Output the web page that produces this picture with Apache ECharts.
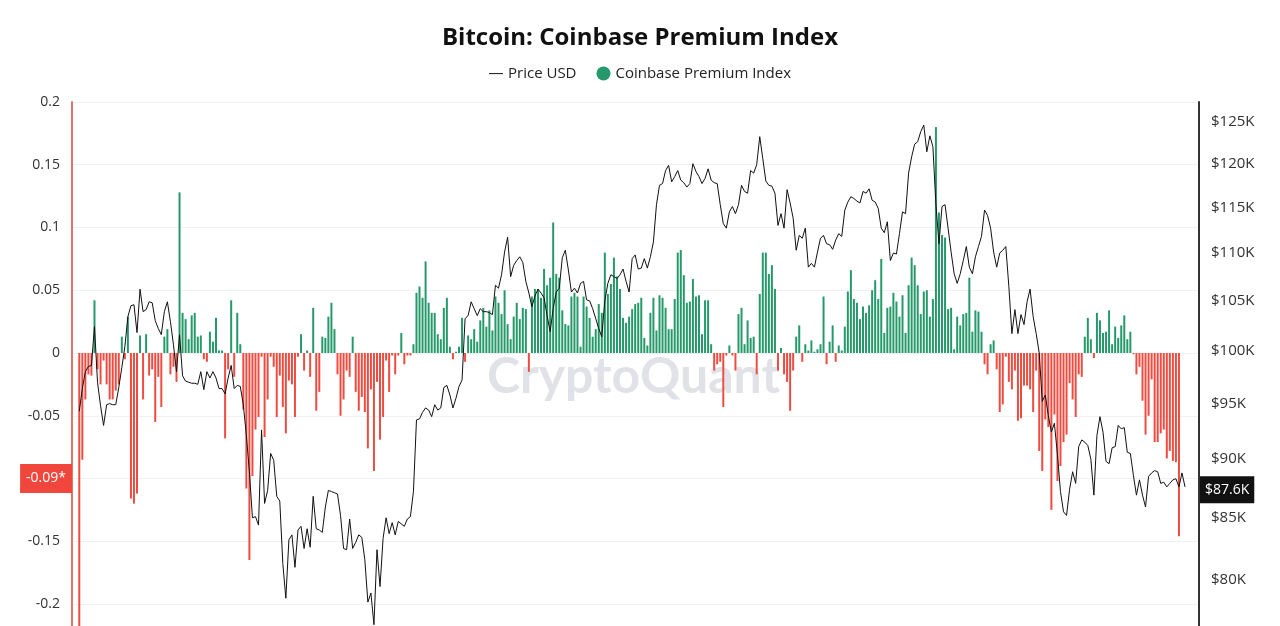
<!DOCTYPE html>
<html><head><meta charset="utf-8">
<script src="https://cdn.jsdelivr.net/npm/echarts@6/dist/echarts.min.js"></script>
<style>html,body{margin:0;padding:0;background:#fff;overflow:hidden}#c{width:1280px;height:700px}</style>
</head><body><div id="c"></div>
<script>
// Daily data, 2025-01-01 onward
const startDate = [2025, 0, 1];
// BTC price, thousands of USD
const priceUSD_K = [
94.3,96.4,98.0,98.5,98.6,102.4,97.0,94.8,93.0,94.9,
95.0,94.9,94.9,96.5,98.4,100.4,103.4,104.5,104.6,101.8,
106.2,103.9,104.1,104.9,104.8,103.0,102.2,101.6,103.9,104.9,
102.9,100.6,98.0,101.6,97.6,97.1,97.0,96.9,96.9,96.8,
98.0,96.3,98.0,97.4,98.0,97.4,96.4,96.4,95.9,97.4,
98.6,96.4,96.7,96.6,94.9,92.1,88.9,85.0,85.1,84.4,
92.6,86.2,87.3,90.5,89.9,86.8,86.4,81.3,78.6,83.2,
83.6,81.0,84.0,84.3,82.5,84.1,82.6,86.8,84.1,84.0,
83.8,85.9,87.3,87.2,87.1,87.0,85.2,82.5,82.4,84.9,
82.5,83.0,83.6,83.4,81.6,78.3,79.0,76.6,82.4,79.5,
83.3,85.0,83.7,84.6,83.6,84.7,84.5,84.3,84.9,85.1,
87.2,93.5,93.6,94.2,94.6,94.4,93.8,94.9,94.4,94.6,
96.5,96.7,95.8,94.6,95.5,96.6,97.2,103.2,103.5,104.9,
104.2,103.5,104.2,103.9,103.9,103.8,103.6,106.6,106.3,107.7,
110.1,111.7,107.5,108.7,109.2,109.6,109.0,107.0,105.8,104.4,
105.5,106.2,105.8,105.3,103.5,101.9,104.2,105.9,106.3,109.5,
110.3,108.2,105.9,106.3,105.8,106.8,107.0,105.1,105.0,104.2,
103.2,102.2,101.4,105.0,106.8,107.7,107.5,107.3,107.7,108.3,
107.0,105.9,109.4,109.8,108.3,108.4,109.4,108.4,109.6,111.2,
115.3,117.5,117.7,119.2,119.8,117.9,118.5,119.2,118.1,117.8,
117.3,117.7,120.0,119.1,118.5,117.7,118.3,119.4,118.1,117.8,
117.7,115.3,113.2,112.7,114.5,115.1,114.3,115.3,117.5,116.8,
116.6,119.2,118.9,119.9,123.2,120.6,118.0,117.5,117.4,116.6,
113.0,114.3,112.7,117.0,115.5,113.8,110.3,111.9,111.6,112.7,
108.5,108.9,108.5,110.1,111.6,111.9,111.0,110.9,110.4,111.4,
112.1,111.8,114.7,115.6,116.2,116.0,115.7,115.5,116.8,116.6,
117.1,115.8,115.6,114.9,112.7,112.2,113.4,109.2,110.0,109.9,
112.1,114.5,114.3,118.9,120.8,122.3,122.6,123.8,124.6,121.4,
123.3,122.0,115.3,111.0,115.1,115.3,112.7,110.1,107.8,106.8,
107.8,109.2,110.7,108.5,107.8,109.6,110.7,111.8,114.7,114.1,
112.7,110.1,108.5,110.0,110.3,110.7,106.5,101.7,104.1,101.7,
103.6,102.6,104.9,106.2,103.4,101.7,99.8,95.2,95.8,93.9,
92.4,93.2,90.4,87.2,85.5,85.2,87.4,88.9,87.9,91.1,
91.7,91.5,91.2,90.0,86.9,92.1,93.8,92.4,89.8,89.6,
91.0,91.1,93.0,92.7,92.8,90.6,90.5,88.6,86.9,88.2,
86.9,85.9,88.5,88.8,89.0,88.9,87.9,88.0,87.6,87.9,
88.2,88.3,87.6,88.8,87.6
];
// Coinbase Premium Index
const premiumIndex = [
-0.30,-0.085,-0.037,-0.017,-0.018,0.042,-0.013,-0.025,-0.006,-0.025,
-0.037,-0.037,-0.030,-0.025,0.013,-0.005,0.029,-0.116,-0.120,-0.112,
0.014,-0.037,0.015,-0.018,-0.013,-0.055,-0.019,-0.043,0.013,0.019,
-0.017,-0.011,-0.023,0.128,0.032,0.027,0.011,0.030,0.032,0.013,
0.014,-0.005,-0.007,0.017,0.009,0.028,0.002,0.002,-0.068,-0.013,
0.042,-0.019,0.032,0.007,-0.045,-0.108,-0.165,-0.098,-0.061,-0.051,
-0.003,-0.067,-0.037,-0.003,-0.011,-0.051,-0.018,-0.043,-0.064,-0.022,
-0.025,-0.051,-0.003,0.015,-0.014,0.002,-0.019,0.036,-0.046,-0.031,
0.013,0.012,0.029,0.040,0.019,-0.017,-0.050,-0.037,-0.014,-0.019,
0.013,-0.031,-0.046,-0.035,-0.047,-0.076,-0.029,-0.094,-0.023,-0.069,
-0.051,-0.006,-0.031,-0.002,-0.017,-0.002,0.016,-0.009,-0.002,-0.002,
0.007,0.048,0.053,0.044,0.073,0.040,0.032,0.032,0.015,0.011,
0.036,0.044,0.005,-0.005,0.001,0.005,0.028,-0.007,0.014,0.011,
0.019,0.009,0.026,0.036,0.021,0.034,0.018,0.045,0.040,0.031,
0.050,0.023,0.011,0.029,0.040,0.027,0.036,0.035,-0.015,0.045,
0.051,0.051,0.044,0.067,0.054,0.060,0.104,0.063,0.060,0.034,
0.023,0.022,0.045,0.048,0.045,0.005,0.045,0.037,0.028,0.013,
0.019,0.039,0.032,0.080,0.047,0.055,0.076,0.061,0.051,0.028,
0.024,0.029,0.035,0.039,0.040,0.044,0.012,0.006,0.032,0.044,
0.018,0.046,0.044,0.036,0.019,0.019,0.043,0.080,0.082,0.062,
0.040,0.041,0.059,0.045,0.046,0.015,0.042,0.042,0.007,-0.014,
-0.009,-0.007,-0.043,-0.002,0.006,-0.002,-0.014,0.031,0.036,0.007,
0.026,0.012,0.013,-0.017,0.047,0.080,0.080,0.063,0.070,0.051,
-0.014,0.004,-0.017,-0.023,-0.046,-0.014,0.013,0.022,-0.007,0.007,
0.002,0.010,0.001,0.003,0.007,0.045,-0.009,0.009,0.022,-0.007,
0.006,0.002,0.021,0.049,0.066,0.043,0.040,0.027,0.037,0.032,
0.038,0.050,0.058,0.043,0.075,0.016,0.036,0.037,0.048,0.041,
0.029,0.046,0.016,0.054,0.076,0.070,0.054,0.031,0.049,0.050,
0.029,0.043,0.180,0.112,0.094,0.092,0.035,0.036,0.003,0.029,
0.022,0.031,0.032,0.060,0.017,0.034,0.033,0.017,-0.009,-0.017,
0.007,0.010,-0.013,-0.047,-0.041,-0.003,-0.023,-0.029,-0.014,-0.054,
-0.052,-0.026,-0.026,-0.029,-0.047,-0.014,-0.078,-0.094,-0.053,-0.059,
-0.125,-0.049,-0.102,-0.090,-0.071,-0.065,-0.024,-0.037,-0.051,-0.017,
-0.019,0.013,0.028,0.011,-0.004,0.032,0.026,0.016,0.017,0.034,
0.007,0.021,0.012,0.022,0.030,0.011,0.017,-0.001,-0.017,-0.011,
-0.038,-0.065,-0.050,-0.021,-0.071,-0.071,-0.064,-0.061,-0.084,-0.078,
-0.086,-0.087,-0.146
];
const priceTicksK = [80, 85, 90, 95, 100, 105, 110, 115, 120, 125];
const premiumTickInterval = 0.05;
const premiumRange = [-0.25, 0.2];
const priceRangeK = [73.525, 127.43];
const lastPremiumLevel = -0.099;
const lastPremiumText = '-0.09*';
const lastPriceK = 87.6;
const lastPriceText = '$87.6K';

const GREEN = '#25996a', RED = '#ef4c41';
const FONT = '"Open Sans", "Noto Sans", sans-serif';
const DAY = 86400000;
const t0 = Date.UTC(startDate[0], startDate[1], startDate[2]);
const dates = priceUSD_K.map((_, i) => t0 + i * DAY);
const LINE_ICON = 'path://M0,0M14,0M0,14M14,14M0,6.6L14,6.6L14,7.6L0,7.6Z';

const chart = echarts.init(document.getElementById('c'), null, {renderer: 'canvas'});
chart.setOption({
  animation: false,
  backgroundColor: '#fff',
  textStyle: {fontFamily: FONT},
  title: {
    text: 'Bitcoin: Coinbase Premium Index', left: 'center', top: 21,
    textStyle: {fontFamily: FONT, fontSize: 24, fontWeight: 'bold', color: '#111'}
  },
  legend: {
    top: 61, left: 'center', itemWidth: 14, itemHeight: 14, itemGap: 20,
    textStyle: {fontFamily: FONT, fontSize: 15, color: '#222'},
    data: [{name: 'Price USD', icon: LINE_ICON}, {name: 'Coinbase Premium Index', icon: 'circle'}]
  },
  graphic: [{
    type: 'text', left: 487, top: 352, z: 0, silent: true,
    style: {text: 'CryptoQuant', fontFamily: '"Lato", "Open Sans", sans-serif', fontSize: 50, fontWeight: 'bold',
      fill: 'rgba(200,202,214,0.55)'}
  }],
  grid: {left: 72, right: 81, top: 102, bottom: 33.25},
  xAxis: {
    type: 'time', show: false,
    min: t0 - 2.07 * DAY, max: t0 + 368.27 * DAY
  },
  yAxis: [{
    type: 'value', position: 'left',
    min: premiumRange[0], max: premiumRange[1], interval: premiumTickInterval,
    axisLine: {show: true, onZero: false, lineStyle: {color: '#e5736a', width: 2}},
    axisTick: {show: false},
    axisLabel: {color: '#333', fontSize: 14, margin: 12, fontFamily: FONT},
    splitLine: {show: true, lineStyle: {color: '#f1f1f1', width: 1}}
  }, {
    type: 'value', position: 'right',
    min: Math.log(priceRangeK[0]), max: Math.log(priceRangeK[1]),
    axisLine: {show: true, onZero: false, lineStyle: {color: '#333', width: 2}},
    axisTick: {show: false, customValues: priceTicksK.map(Math.log)},
    axisLabel: {
      color: '#333', fontSize: 15, margin: 12, fontFamily: FONT,
      customValues: priceTicksK.map(Math.log),
      formatter: v => '$' + Math.round(Math.exp(v)) + 'K'
    },
    splitLine: {show: false}
  }],
  series: [{
    name: 'Coinbase Premium Index', type: 'bar', yAxisIndex: 0, z: 4,
    barWidth: 2, itemStyle: {color: GREEN},
    data: premiumIndex.map((v, i) => ({value: [dates[i], v], itemStyle: {color: v < 0 ? RED : GREEN}})),
    markLine: {
      silent: true, symbol: ['none', 'none'],
      lineStyle: {color: 'rgba(0,0,0,0)', width: 0},
      label: {show: true, position: 'start', distance: 0, formatter: lastPremiumText,
        color: '#fff', backgroundColor: '#f0463c', padding: [8, 6, 7, 6], fontSize: 14, fontFamily: FONT},
      data: [{yAxis: lastPremiumLevel}]
    }
  }, {
    name: 'Price USD', type: 'line', yAxisIndex: 1, z: 6,
    symbol: 'none', showSymbol: false,
    lineStyle: {color: '#111', width: 1}, itemStyle: {color: '#111'},
    data: priceUSD_K.map((p, i) => [dates[i], Math.log(p)]),
    markLine: {
      silent: true, symbol: ['none', 'none'],
      lineStyle: {color: 'rgba(0,0,0,0)', width: 0},
      label: {show: true, position: 'end', distance: 1, formatter: lastPriceText,
        color: '#fff', backgroundColor: '#111', padding: [7, 5, 6, 5], fontSize: 14, fontFamily: FONT},
      data: [{yAxis: Math.log(lastPriceK)}]
    }
  }]
});
</script>
</body></html>
